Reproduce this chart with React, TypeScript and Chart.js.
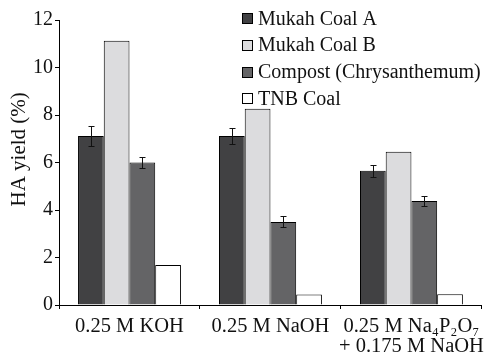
import React, { useEffect, useRef } from "react";
import { Chart, registerables } from "chart.js";

Chart.register(...registerables);

const FONT = "'Liberation Serif', 'Times New Roman', serif";

const categories: (string | string[])[] = [
  "0.25 M KOH",
  "0.25 M NaOH",
  ["0.25 M Na₄P₂O₇", "+ 0.175 M NaOH"],
];
const seriesNames = ["Mukah Coal A", "Mukah Coal B", "Compost (Chrysanthemum)", "TNB Coal"];
const seriesColors = ["#414143", "#dcdcde", "#646466", "#ffffff"];
const coalA = [7.12, 7.12, 5.65];
const coalAErr = [0.42, 0.32, 0.24];
const coalB = [11.13, 8.26, 6.45];
const compost = [6.0, 3.5, 4.38];
const compostErr = [0.25, 0.23, 0.22];
const tnb = [1.68, 0.44, 0.45];
const yTitle = "HA yield (%)";
const yMin = 0;
const yMax = 12;
const yStep = 2;

const errorBarPlugin = {
  id: "errorBars",
  afterDatasetsDraw(chart: any) {
    const ctx = chart.ctx;
    const yScale = chart.scales.y;
    chart.data.datasets.forEach((ds: any, di: number) => {
      const errs: number[] | undefined = ds.errors;
      if (!errs) return;
      const meta = chart.getDatasetMeta(di);
      meta.data.forEach((bar: any, i: number) => {
        const v = ds.data[i];
        const e = errs[i];
        const x = Math.round(bar.x) + 0.5;
        const yTop = Math.round(yScale.getPixelForValue(v + e)) + 0.5;
        const yBot = Math.round(yScale.getPixelForValue(v - e)) + 0.5;
        ctx.save();
        ctx.strokeStyle = "#111";
        ctx.lineWidth = 1;
        ctx.beginPath();
        ctx.moveTo(x, yTop);
        ctx.lineTo(x, yBot);
        ctx.moveTo(x - 3, yTop);
        ctx.lineTo(x + 3, yTop);
        ctx.moveTo(x - 3, yBot);
        ctx.lineTo(x + 3, yBot);
        ctx.stroke();
        ctx.restore();
      });
    });
  },
};

const legendPlugin = {
  id: "insideLegend",
  afterDraw(chart: any) {
    const ctx = chart.ctx;
    const area = chart.chartArea;
    const x0 = area.left + 183;
    const y0 = area.top - 1.7;
    const gap = 26.9;
    ctx.save();
    ctx.font = "normal normal 20px " + FONT;
    ctx.textBaseline = "middle";
    ctx.textAlign = "left";
    chart.data.datasets.forEach((ds: any, i: number) => {
      const cy = y0 + i * gap;
      const top = Math.round(cy - 5.5);
      ctx.fillStyle = ds.backgroundColor;
      ctx.fillRect(x0, top, 11, 11);
      ctx.strokeStyle = "#000";
      ctx.lineWidth = 1;
      ctx.strokeRect(x0 + 0.5, top + 0.5, 10, 10);
      ctx.fillStyle = "#111";
      ctx.fillText(ds.label, x0 + 16, cy + 1);
    });
    // y axis title
    ctx.translate(19.5, area.top + (area.bottom - area.top) * 0.454);
    ctx.rotate(-Math.PI / 2);
    ctx.font = "normal normal 21px " + FONT;
    ctx.textAlign = "center";
    ctx.textBaseline = "middle";
    ctx.fillText(yTitle, 0, 0);
    ctx.restore();
  },
};

export default function App() {
  const ref = useRef<HTMLCanvasElement | null>(null);
  useEffect(() => {
    if (!ref.current) return;
    const mk = (label: string, data: number[], color: string, errors?: number[]) => ({
      label,
      data,
      backgroundColor: color,
      borderColor: "#000",
      borderWidth: 1,
      borderSkipped: "bottom",
      errors,
    });
    const chart = new Chart(ref.current, {
      type: "bar",
      data: {
        labels: categories as any,
        datasets: [
          mk(seriesNames[0], coalA, seriesColors[0], coalAErr),
          mk(seriesNames[1], coalB, seriesColors[1]),
          mk(seriesNames[2], compost, seriesColors[2], compostErr),
          mk(seriesNames[3], tnb, seriesColors[3]),
        ] as any,
      },
      options: {
        responsive: false,
        animation: false,
        devicePixelRatio: 1,
        font: { family: FONT },
        layout: { padding: { top: 20, right: 7, left: 0, bottom: 0 } },
        datasets: { bar: { barPercentage: 1, categoryPercentage: 0.73 } },
        plugins: {
          legend: { display: false },
          tooltip: { enabled: false },
        },
        scales: {
          x: {
            grid: { drawOnChartArea: false, drawTicks: true, tickLength: 4, color: "#000", offset: true },
            border: { display: true, color: "#000", width: 1 },
            ticks: {
              color: "#111",
              font: { family: FONT, size: 20.5, lineHeight: 1.0 },
              padding: 7,
              maxRotation: 0,
              autoSkip: false,
            },
            afterFit: (s: any) => {
              s.height = 51;
            },
          },
          y: {
            min: yMin,
            max: yMax,
            grid: { drawOnChartArea: false, drawTicks: true, tickLength: 4, color: "#000" },
            border: { display: true, color: "#000", width: 1 },
            ticks: {
              stepSize: yStep,
              color: "#111",
              font: { family: FONT, size: 20 },
              padding: 2,
            },
            afterFit: (s: any) => {
              s.width = 59;
            },
          },
        },
      },
      plugins: [errorBarPlugin, legendPlugin],
    } as any);
    return () => chart.destroy();
  }, []);
  return (
    <div style={{ position: "fixed", left: 0, top: 0, width: 492, height: 356, background: "#fff" }}>
      <canvas ref={ref} width={492} height={356} style={{ display: "block" }} />
    </div>
  );
}
